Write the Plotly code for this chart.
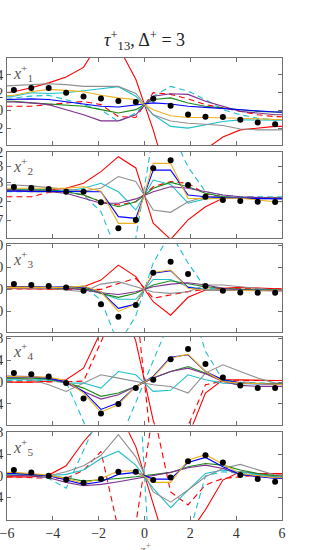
import plotly.graph_objects as go
from plotly.subplots import make_subplots

# ---------------- data ----------------
Z_LINE = [-6.46, -5.70, -4.94, -4.18, -3.42, -2.66, -1.90, -1.14, -0.38,
          0.38, 1.14, 1.90, 2.66, 3.42, 4.18, 4.94, 5.70, 6.46]
Z_DOT = [-5.70, -4.94, -4.18, -3.42, -2.66, -1.90, -1.14, -0.38,
         0.38, 1.14, 1.90, 2.66, 3.42, 4.18, 4.94, 5.70]

# panel 1 (x1+)
P1_RED = [0.19, 0.21, 0.255, 0.31, 0.377, 0.484, 0.80, 0.72, 0.35, -0.22, -0.89, -0.80, -0.44, -0.30, -0.22, -0.20, -0.18, -0.18]
P1_RED_D = [0.046, 0.046, 0.046, 0.065, 0.084, 0.10, 0.065, -0.07, -0.08, 0.20, 0.18, 0.13, 0.065, 0.03, -0.01, -0.05, -0.07, -0.075]
P1_CYAN = [0.16, 0.16, 0.198, 0.19, 0.198, 0.217, 0.244, 0.267, 0.16, -0.05, -0.18, -0.20, -0.164, -0.126, -0.107, -0.11, -0.11, -0.11]
P1_CYAN_D = [0.14, 0.14, 0.16, 0.17, 0.12, 0.065, 0.008, -0.126, -0.03, 0.16, 0.27, 0.217, 0.122, 0.008, -0.05, -0.088, -0.107, -0.11]
P1_GRAY = [0.27, 0.28, 0.29, 0.30, 0.29, 0.27, 0.27, 0.27, 0.19, -0.05, -0.12, -0.145, -0.156, -0.17, -0.21, -0.22, -0.22, -0.22]
P1_GREEN = [0.103, 0.103, 0.084, 0.072, 0.065, 0.046, 0.008, -0.03, 0.008, 0.122, 0.141, 0.084, 0.046, 0.027, 0.008, -0.011, -0.019, -0.02]
P1_BLUE = [0.12, 0.122, 0.13, 0.122, 0.095, 0.065, 0.046, 0.038, 0.057, 0.084, 0.072, 0.046, 0.034, 0.019, 0.008, -0.004, -0.019, -0.02]
P1_ORANGE = [0.16, 0.17, 0.21, 0.236, 0.225, 0.21, 0.17, 0.141, 0.122, 0.008, -0.06, -0.08, -0.08, -0.088, -0.088, -0.095, -0.107, -0.11]
P1_PURPLE = [0.095, 0.095, 0.084, 0.065, 0.008, -0.05, -0.118, -0.118, -0.05, 0.16, 0.187, 0.18, 0.103, 0.046, -0.011, -0.03, -0.05, -0.05]
P1_DNS = [0.229, 0.251, 0.251, 0.198, 0.156, 0.133, 0.107, 0.095, 0.130, 0.053, -0.046, -0.072, -0.076, -0.107, -0.137, -0.156]

# panel 2 (x2+)
P2_RED = [0.023, 0.023, 0.023, 0.023, 0.031, 0.054, 0.108, 0.177, 0.125, -0.13, -0.205, -0.115, -0.054, -0.015, -0.012, -0.012, -0.015, -0.015]
P2_RED_D = [-0.008, -0.008, -0.008, 0.012, 0.015, 0.0, -0.031, -0.046, -0.031, 0.038, 0.062, 0.054, 0.005, -0.008, -0.012, -0.012, -0.012, -0.012]
P2_CYAN = [0.028, 0.028, 0.026, 0.023, 0.018, 0.031, 0.054, 0.015, -0.069, 0.069, 0.049, -0.038, -0.018, -0.008, -0.012, -0.015, -0.015, -0.015]
P2_CYAN_D = [0.015, 0.015, 0.015, 0.018, 0.015, 0.0, -0.077, -0.28, -0.20, 0.28, 0.30, 0.13, 0.015, 0.0, -0.008, -0.008, -0.008, -0.008]
P2_GRAY = [0.046, 0.046, 0.042, 0.034, 0.023, 0.018, 0.031, 0.085, 0.062, -0.069, -0.08, -0.031, -0.008, -0.008, -0.015, -0.018, -0.015, -0.015]
P2_GREEN = [0.023, 0.023, 0.023, 0.023, 0.015, 0.0, -0.031, -0.054, -0.031, 0.031, 0.058, 0.038, 0.008, -0.008, -0.015, -0.015, -0.015, -0.015]
P2_BLUE = [0.018, 0.018, 0.018, 0.018, 0.018, 0.018, 0.015, -0.10, -0.108, 0.115, 0.115, 0.0, -0.008, -0.012, -0.015, -0.018, -0.018, -0.018]
P2_ORANGE = [0.031, 0.031, 0.031, 0.031, 0.031, 0.038, 0.018, -0.131, -0.131, 0.146, 0.146, -0.015, -0.018, -0.015, -0.015, -0.023, -0.031, -0.031]
P2_PURPLE = [0.023, 0.023, 0.015, 0.015, 0.008, -0.015, -0.038, -0.038, -0.018, 0.015, 0.038, 0.031, 0.015, 0.0, -0.008, -0.012, -0.015, -0.015]
P2_DNS = [0.037, 0.032, 0.028, 0.015, 0.015, -0.034, -0.154, -0.115, 0.123, 0.16, 0.046, -0.008, -0.023, -0.028, -0.031, -0.032]

# panel 3 (x3+)
P3_RED = [0.005, 0.005, 0.005, 0.002, 0.0, 0.012, 0.042, 0.11, 0.058, -0.056, -0.117, -0.036, -0.003, 0.005, 0.009, 0.005, 0.0, 0.0]
P3_RED_D = [0.003, 0.003, 0.003, 0.003, 0.003, 0.003, 0.0, 0.027, 0.05, -0.04, -0.026, -0.01, 0.0, 0.003, 0.003, 0.003, 0.003, 0.003]
P3_CYAN = [0.009, 0.009, 0.009, 0.005, 0.005, 0.015, -0.018, -0.045, -0.045, 0.045, 0.045, 0.012, 0.0, -0.003, -0.003, -0.003, -0.003, -0.003]
P3_CYAN_D = [0.009, 0.009, 0.009, 0.009, 0.009, 0.012, -0.048, -0.25, -0.12, 0.12, 0.255, 0.12, 0.005, 0.0, -0.003, -0.003, -0.003, -0.003]
P3_GRAY = [0.005, 0.005, 0.005, 0.005, -0.003, -0.011, 0.024, 0.035, 0.012, -0.012, -0.018, -0.011, 0.02, 0.02, 0.012, 0.005, -0.003, -0.003]
P3_GREEN = [0.012, 0.012, 0.012, 0.008, 0.005, 0.005, -0.018, -0.036, -0.018, 0.02, 0.039, 0.027, 0.012, 0.005, 0.0, -0.003, -0.003, -0.003]
P3_BLUE = [0.009, 0.009, 0.009, 0.009, 0.009, 0.012, -0.011, -0.086, -0.067, 0.073, 0.085, 0.009, -0.003, -0.003, -0.006, -0.006, -0.006, -0.006]
P3_ORANGE = [0.009, 0.009, 0.009, 0.009, 0.009, 0.015, -0.011, -0.10, -0.067, 0.077, 0.088, 0.005, -0.003, -0.003, -0.006, -0.006, -0.006, -0.006]
P3_PURPLE = [0.012, 0.012, 0.012, 0.009, 0.005, -0.003, -0.015, -0.023, -0.011, 0.012, 0.024, 0.03, 0.02, 0.005, -0.003, -0.006, -0.006, -0.006]
P3_DNS = [0.024, 0.02, 0.015, 0.009, -0.006, -0.067, -0.124, -0.071, 0.076, 0.126, 0.07, 0.015, -0.006, -0.014, -0.015, -0.015]

# panel 4 (x4+)
P4_RED = [0.0, 0.0, 0.0, 0.018, 0.042, 0.254, 1.0, 1.6, 0.75, -0.7, -1.7, -1.0, -0.2, 0.04, 0.04, 0.03, 0.03, 0.03]
P4_RED_D = [0.0, 0.0, 0.0, 0.0, 0.006, 0.018, 0.73, 1.5, 1.5, -1.5, -1.5, -0.8, -0.05, 0.02, 0.03, 0.03, 0.03, 0.03]
P4_CYAN = [0.042, 0.042, 0.042, 0.042, -0.018, -0.018, -0.11, 0.194, 0.133, -0.17, -0.15, 0.133, 0.042, -0.018, -0.03, -0.03, -0.03, -0.03]
P4_CYAN_D = [0.03, 0.03, 0.03, 0.03, 0.0, -0.72, -1.6, -1.13, -0.37, 0.39, 1.15, 1.6, 0.56, 0.04, 0.0, -0.018, -0.018, -0.018]
P4_GRAY = [0.073, 0.073, 0.042, -0.048, -0.17, -0.018, 0.133, 0.073, 0.012, -0.048, -0.079, -0.20, 0.164, 0.315, 0.194, 0.073, -0.018, -0.018]
P4_GREEN = [0.073, 0.073, 0.073, 0.055, -0.006, -0.11, -0.26, -0.20, -0.079, 0.073, 0.194, 0.285, 0.164, 0.042, -0.018, -0.03, -0.03, -0.03]
P4_BLUE = [0.09, 0.09, 0.09, 0.073, 0.012, -0.17, -0.50, -0.38, -0.079, 0.103, 0.455, 0.50, 0.194, 0.042, -0.018, -0.03, -0.048, -0.048]
P4_ORANGE = [0.103, 0.103, 0.103, 0.09, 0.03, -0.20, -0.55, -0.41, -0.079, 0.09, 0.436, 0.51, 0.194, 0.012, -0.018, -0.03, -0.048, -0.048]
P4_PURPLE = [0.115, 0.115, 0.103, 0.073, -0.018, -0.17, -0.31, -0.23, -0.079, 0.073, 0.194, 0.255, 0.152, 0.012, -0.06, -0.079, -0.079, -0.079]
P4_DNS = [0.164, 0.145, 0.103, -0.018, -0.30, -0.576, -0.40, -0.11, 0.042, 0.418, 0.606, 0.333, 0.085, -0.06, -0.11, -0.11]

# panel 5 (x5+)
P5_RED = [-0.02, -0.02, -0.02, 0.012, 0.185, 0.63, 1.0, 1.2, 0.54, -0.52, -1.57, -1.1, -0.63, -0.08, 0.074, 0.042, 0.042, 0.042]
P5_RED_D = [-0.02, -0.02, -0.037, -0.05, -0.05, 0.10, 0.45, -1.0, -0.9, 1.2, -0.3, -0.54, -0.17, -0.05, -0.02, 0.012, 0.012, 0.012]
P5_CYAN = [0.025, 0.025, 0.012, 0.0, 0.025, 0.105, 0.32, 0.455, 0.197, -0.234, -0.59, -0.265, 0.043, 0.105, 0.074, 0.025, -0.018, -0.018]
P5_CYAN_D = [0.012, 0.012, 0.0, -0.05, -0.23, 0.47, 1.2, 1.3, 2.8, -2.8, -2.5, -1.15, 0.0, 0.074, 0.043, 0.012, -0.018, -0.018]
P5_GRAY = [0.012, 0.012, 0.012, 0.0, 0.074, 0.185, 0.38, 0.76, 0.35, -0.30, -0.49, -0.265, -0.018, 0.135, 0.21, 0.105, 0.012, 0.012]
P5_GREEN = [0.043, 0.043, 0.025, 0.0, -0.037, -0.10, -0.08, -0.05, -0.018, 0.025, 0.062, 0.166, 0.228, 0.197, 0.105, 0.043, 0.0, 0.0]
P5_BLUE = [0.043, 0.043, 0.025, 0.0, -0.08, -0.16, -0.11, 0.025, 0.062, -0.062, -0.062, 0.246, 0.34, 0.166, 0.025, -0.018, -0.05, -0.05]
P5_ORANGE = [0.062, 0.062, 0.043, 0.012, -0.05, -0.14, -0.05, 0.086, 0.092, -0.123, -0.123, 0.29, 0.39, 0.21, 0.043, 0.0, -0.037, -0.037]
P5_PURPLE = [0.012, 0.012, 0.0, -0.037, -0.123, -0.185, -0.16, -0.11, -0.05, 0.012, 0.062, 0.148, 0.197, 0.135, 0.025, -0.018, -0.037, -0.037]
P5_DNS = [0.105, 0.062, 0.0, -0.068, -0.13, -0.062, 0.074, 0.074, -0.08, -0.031, 0.27, 0.38, 0.246, 0.012, -0.062, -0.11]

PANEL_LABELS = ["1", "2", "3", "4", "5"]
X_TICKS = [-6, -4, -2, 0, 2, 4, 6]
Y_TICKVALS = [
    [-0.2, 0, 0.2, 0.4],
    [0.2, 0.133, 0.058, -0.032, -0.117],
    [0.2, 0.1, 0, -0.1],
    [0.8, 0.4, 0, -0.4],
    [0.8, 0.4, 0, -0.4],
]
Y_TICKTEXT = [
    ["-0.2", "0", "0.2", "0.4"],
    ["0.2", "0.133", "0.058", "-0.032", "-0.117"],
    ["0.20", "0.10", "0", "-0.10"],
    ["0.8", "0.4", "0", "-0.4"],
    ["0.8", "0.4", "0", "-0.4"],
]
Y_RANGES = [[-0.39, 0.59], [-0.2, 0.2], [-0.192, 0.206], [-0.775, 0.83], [-0.82, 0.805]]

PANELS = [
    (P1_RED, P1_RED_D, P1_CYAN, P1_CYAN_D, P1_GRAY, P1_GREEN, P1_PURPLE, P1_BLUE, P1_ORANGE, P1_DNS),
    (P2_RED, P2_RED_D, P2_CYAN, P2_CYAN_D, P2_GRAY, P2_GREEN, P2_PURPLE, P2_BLUE, P2_ORANGE, P2_DNS),
    (P3_RED, P3_RED_D, P3_CYAN, P3_CYAN_D, P3_GRAY, P3_GREEN, P3_PURPLE, P3_BLUE, P3_ORANGE, P3_DNS),
    (P4_RED, P4_RED_D, P4_CYAN, P4_CYAN_D, P4_GRAY, P4_GREEN, P4_PURPLE, P4_BLUE, P4_ORANGE, P4_DNS),
    (P5_RED, P5_RED_D, P5_CYAN, P5_CYAN_D, P5_GRAY, P5_GREEN, P5_PURPLE, P5_BLUE, P5_ORANGE, P5_DNS),
]

# styles (color, dash) in drawing order
RED = "#ff0000"
CYAN = "#1fbfcc"
GRAY = "#8f8f8f"
GREEN = "#1a8a1a"
PURPLE = "#7e2f8e"
BLUE = "#0000ff"
ORANGE = "#edb120"
LINE_STYLES = [
    (RED, "solid"), (RED, "6px,4px"), (CYAN, "solid"), (CYAN, "6px,4px"),
    (GRAY, "solid"), (GREEN, "solid"), (PURPLE, "solid"), (BLUE, "solid"), (ORANGE, "solid"),
]

SERIF = "Times New Roman, Liberation Serif, serif"
FRAME = "#6f6f6f"

# domains in paper coords (plot area from y=58 to y=520 px)
DOMAINS = [[0.8117, 1.0], [0.6097, 0.7972], [0.4076, 0.5974], [0.2067, 0.3968], [0.0, 0.1898]]

fig = make_subplots(rows=5, cols=1, shared_xaxes=True, vertical_spacing=0.01)

for i, panel in enumerate(PANELS):
    row = i + 1
    lines = panel[:9]
    dns = panel[9]
    for vals, (col, dash) in zip(lines, LINE_STYLES):
        fig.add_trace(go.Scatter(x=Z_LINE, y=vals, mode="lines",
                                 line=dict(color=col, width=1.1, dash=dash),
                                 showlegend=False, hoverinfo="skip"), row=row, col=1)
    fig.add_trace(go.Scatter(x=Z_DOT, y=dns, mode="markers",
                             marker=dict(color="black", size=6),
                             showlegend=False, hoverinfo="skip"), row=row, col=1)

for i in range(5):
    n = "" if i == 0 else str(i + 1)
    fig.layout["yaxis" + n].update(
        domain=DOMAINS[i], range=Y_RANGES[i], tickmode="array",
        tickvals=Y_TICKVALS[i], ticktext=Y_TICKTEXT[i], automargin=False,
        ticklabeloverflow="allow",
        ticks="inside", ticklen=4, tickcolor=FRAME, mirror="allticks",
        showline=True, linecolor=FRAME, linewidth=1, showgrid=False, zeroline=False,
        tickfont=dict(family=SERIF, size=14, color="#333333"),
    )
    fig.layout["xaxis" + n].update(
        range=[-6, 6], tickmode="array", tickvals=X_TICKS, automargin=False,
        ticklabeloverflow="allow",
        ticks="inside", ticklen=4, tickcolor=FRAME, mirror="allticks",
        showline=True, linecolor=FRAME, linewidth=1, showgrid=False, zeroline=False,
        showticklabels=(i == 4),
        tickfont=dict(family=SERIF, size=14, color="#333333"),
    )
    fig.add_annotation(
        xref=("x" + n + " domain"), yref=("y" + n + " domain"),
        x=0.015, y=0.98, xanchor="left", yanchor="top", showarrow=False,
        text="<i>x</i><sup>+</sup><sub>" + PANEL_LABELS[i] + "</sub>",
        font=dict(family=SERIF, size=16, color="#555555"),
    )

# x-axis label, sitting at the lower page edge as in the reference
fig.add_annotation(
    xref="x5 domain", yref="paper", x=0.5, y=-0.04, xanchor="center", yanchor="top",
    showarrow=False, text="<i>z</i><sup>+</sup>",
    font=dict(family=SERIF, size=14, color="#888888"),
)

fig.update_layout(
    width=317, height=550,
    margin=dict(l=7, r=35, t=58, b=30, autoexpand=False),
    paper_bgcolor="white", plot_bgcolor="white",
    title=dict(text="<i>τ</i><sup>+</sup><sub>13</sub>, Δ<sup>+</sup> = 3",
               x=0.456, xanchor="center", y=0.927, yanchor="middle",
               font=dict(family=SERIF, size=18, color="#222222")),
    showlegend=False,
)

fig.write_html("out.html", config={"displayModeBar": False},
               post_script="document.body.style.margin='0';document.body.style.overflow='hidden';")
